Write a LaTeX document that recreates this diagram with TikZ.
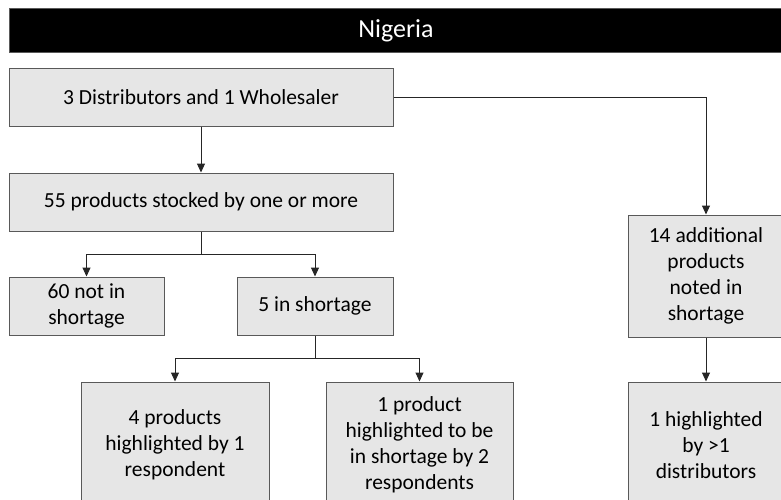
\documentclass[tikz,border=0pt]{standalone}
\usepackage{fontspec}
\setmainfont{Carlito}
\usetikzlibrary{arrows.meta}
\definecolor{boxfill}{HTML}{E6E6E6}
\definecolor{boxline}{HTML}{595959}
\definecolor{linkline}{HTML}{262626}
\begin{document}
\begin{tikzpicture}[x=1pt,y=-1pt,
  box/.style={draw=boxline, fill=boxfill, line width=1pt, rectangle, inner sep=0pt,
    align=center, font=\fontsize{21.5}{26}\selectfont, text=black},
  link/.style={draw=linkline, line width=1pt, -{Triangle[width=8pt,length=9pt]}},
  plain/.style={draw=linkline, line width=1pt},
]
\useasboundingbox (0,0) rectangle (781,499);
\clip (0,0) rectangle (781,499);

% title bar
\node[fill=black, draw=boxline, line width=1pt, inner sep=0pt, minimum width=773pt,
  minimum height=44pt, anchor=north west, text=white,
  font=\fontsize{26}{30}\selectfont] (title) at (9,8) {Nigeria};

% boxes
\node[box, minimum width=384pt, minimum height=58pt] (A) at (201,97) {3 Distributors and 1 Wholesaler};
\node[box, minimum width=384pt, minimum height=58pt] (B) at (201,202) {55 products stocked by one or more};
\node[box, minimum width=155pt, minimum height=58pt] (C) at (86.5,306) {60 not in\\shortage};
\node[box, minimum width=156pt, minimum height=58pt] (D) at (315,306) {5 in shortage};
\node[box, minimum width=188pt, minimum height=126pt] (E) at (175,445) {4 products\\highlighted by 1\\respondent};
\node[box, minimum width=187pt, minimum height=126pt] (F) at (419.5,445) {1 product\\highlighted to be\\in shortage by 2\\respondents};
\node[box, minimum width=156pt, minimum height=122pt] (G) at (706,276) {14 additional\\products\\noted in\\shortage};
\node[box, minimum width=156pt, minimum height=126pt] (H) at (706,445) {1 highlighted\\by >1\\distributors};

% junction points
\coordinate (bsplit) at (201,254);
\coordinate (dsplit) at (315,358);

% connectors
\draw[link] (A.south) -- (B.north);
\draw[plain] (B.south) -- (bsplit);
\draw[link] (bsplit) -| (C.north);
\draw[link] (bsplit) -| (D.north);
\draw[plain] (D.south) -- (dsplit);
\draw[link] (dsplit) -| (E.north);
\draw[link] (dsplit) -| (F.north);
\draw[link] (A.east) -| (G.north);
\draw[link] (G.south) -- (H.north);
\end{tikzpicture}
\end{document}
